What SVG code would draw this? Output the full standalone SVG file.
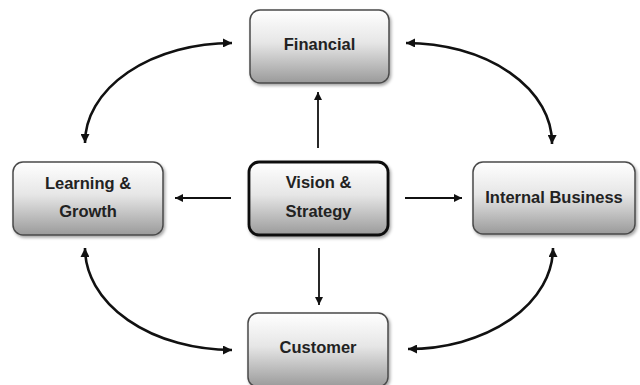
<svg xmlns="http://www.w3.org/2000/svg" width="640" height="385" viewBox="0 0 640 385">
  <defs>
    <linearGradient id="boxGrad" x1="0" y1="0" x2="0" y2="1">
      <stop offset="0" stop-color="#ffffff"/>
      <stop offset="0.45" stop-color="#e6e6e6"/>
      <stop offset="1" stop-color="#9a9a9a"/>
    </linearGradient>
    <filter id="shadow" x="-10%" y="-10%" width="130%" height="140%">
      <feDropShadow dx="1.5" dy="2" stdDeviation="1.5" flood-color="#000" flood-opacity="0.35"/>
    </filter>
    <marker id="headS" viewBox="0 0 10 10" refX="10" refY="5" markerUnits="userSpaceOnUse" markerWidth="9" markerHeight="8" orient="auto-start-reverse">
      <path d="M0,0 L10,5 L0,10 z" fill="#111"/>
    </marker>
    <marker id="headC" viewBox="0 0 10 10" refX="10" refY="5" markerUnits="userSpaceOnUse" markerWidth="10" markerHeight="9" orient="auto-start-reverse">
      <path d="M0,0 L10,5 L0,10 z" fill="#111"/>
    </marker>
  </defs>
  <style>
    .box { fill: url(#boxGrad); stroke: #4a4a4a; stroke-width: 1.5; filter: url(#shadow); }
    .core { fill: url(#boxGrad); stroke: #111; stroke-width: 2.8; filter: url(#shadow); }
    .lbl { font-family: "Liberation Sans", Arial, sans-serif; font-weight: bold; font-size: 16.5px; fill: #222; text-anchor: middle; }
    .straight { fill: none; stroke: #111; stroke-width: 1.8; marker-end: url(#headS); }
    .curve { fill: none; stroke: #111; stroke-width: 2.6; marker-start: url(#headC); marker-end: url(#headC); }
  </style>
  <rect width="640" height="385" fill="#ffffff"/>

  <g id="connectors">
    <path class="straight" d="M318,148 L318,92"/>
    <path class="straight" d="M231,198 L175,198"/>
    <path class="straight" d="M405,198 L462,198"/>
    <path class="straight" d="M319,248 L319,305"/>
    <path class="curve" d="M85,143 A147,100 0 0 1 232,43"/>
    <path class="curve" d="M406,43 A146,100 0 0 1 552,144"/>
    <path class="curve" d="M553,248 A145,101 0 0 1 408,349"/>
    <path class="curve" d="M232,350 A147,102 0 0 1 85,248"/>
  </g>

  <g id="financial">
    <rect class="box" x="250" y="10" width="139" height="73" rx="10"/>
    <text class="lbl" x="319.5" y="50">Financial</text>
  </g>

  <g id="learning-growth">
    <rect class="box" x="13" y="162" width="150" height="73" rx="10"/>
    <text class="lbl" x="88" y="189">Learning &amp;</text>
    <text class="lbl" x="88" y="217">Growth</text>
  </g>

  <g id="vision-strategy">
    <rect class="core" x="249" y="162" width="139" height="73" rx="10"/>
    <text class="lbl" x="318.5" y="188">Vision &amp;</text>
    <text class="lbl" x="318.5" y="217">Strategy</text>
  </g>

  <g id="internal-business">
    <rect class="box" x="473" y="162" width="162" height="72" rx="10"/>
    <text class="lbl" x="554" y="203">Internal Business</text>
  </g>

  <g id="customer">
    <rect class="box" x="248" y="313" width="140" height="74" rx="10"/>
    <text class="lbl" x="318" y="353">Customer</text>
  </g>
</svg>
